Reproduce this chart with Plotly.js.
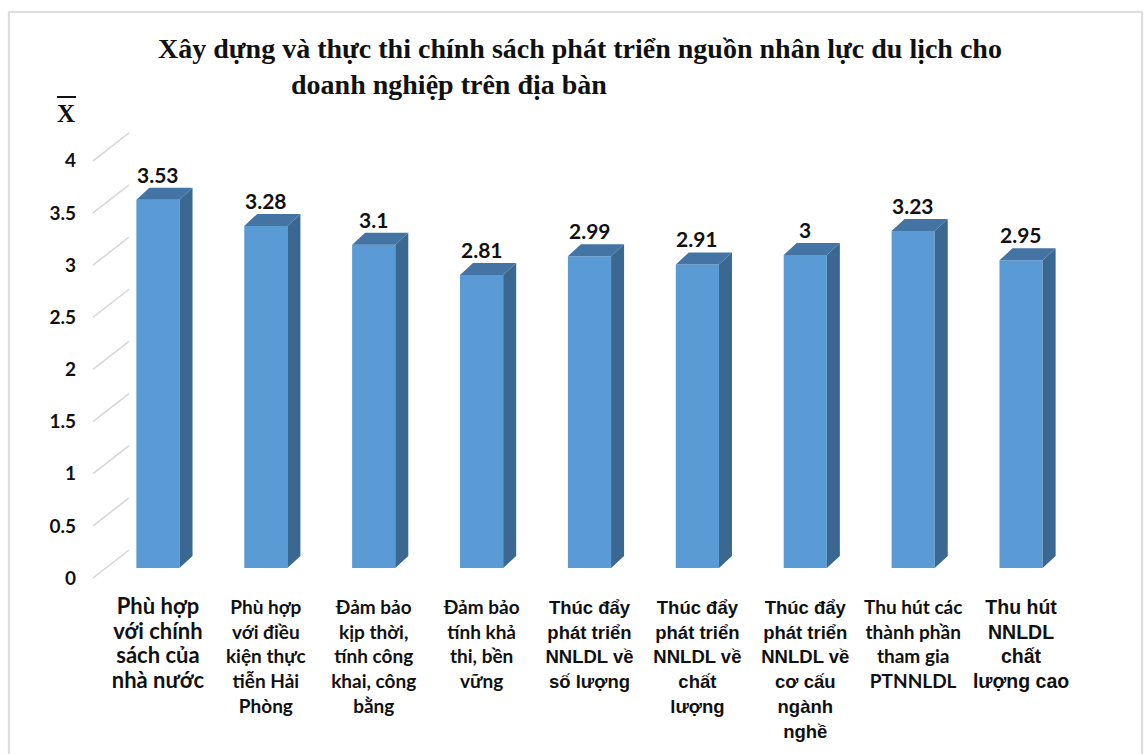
<!DOCTYPE html>
<html>
<head>
<meta charset="utf-8">
<script src="https://cdn.plot.ly/plotly-3.0.1.min.js"></script>
<style>
  html, body { margin: 0; padding: 0; background: #ffffff; }
  #wrap { position: relative; width: 1146px; height: 754px; overflow: hidden; }
  #chart { position: absolute; left: 0; top: 0; width: 1146px; height: 754px; }
  #frame { position: absolute; left: 8px; top: 11px; right: 3px; bottom: -6px;
           border: 2px solid #dedede; box-shadow: 0 0 2px #eeeeee; pointer-events: none; }
</style>
</head>
<body>
<div id="wrap">
  <div id="chart"></div>
  <div id="frame"></div>
</div>
<script>
// Mean scores for each policy criterion
const categories = [
  "Phù hợp<br>với chính<br>sách của<br>nhà nước",
  "Phù hợp<br>với điều<br>kiện thực<br>tiễn Hải<br>Phòng",
  "Đảm bảo<br>kịp thời,<br>tính công<br>khai, công<br>bằng",
  "Đảm bảo<br>tính khả<br>thi, bền<br>vững",
  "Thúc đẩy<br>phát triển<br>NNLDL về<br>số lượng",
  "Thúc đẩy<br>phát triển<br>NNLDL về<br>chất<br>lượng",
  "Thúc đẩy<br>phát triển<br>NNLDL về<br>cơ cấu<br>ngành<br>nghề",
  "Thu hút các<br>thành phần<br>tham gia<br>PTNNLDL",
  "Thu hút<br>NNLDL<br>chất<br>lượng cao"
];
const values = [3.53, 3.28, 3.1, 2.81, 2.99, 2.91, 3, 3.23, 2.95];
const valueLabels = ["3.53", "3.28", "3.1", "2.81", "2.99", "2.91", "3", "3.23", "2.95"];
const yTicks = [0, 0.5, 1, 1.5, 2, 2.5, 3, 3.5, 4];
const yTickLabels = ["0", "0.5", "1", "1.5", "2", "2.5", "3", "3.5", "4"];
const titleLine1 = "Xây dựng và thực thi chính sách phát triển nguồn nhân lực du lịch cho";
const titleLine2 = "doanh nghiệp trên địa bàn";

// typeface and size of each category label
const LATO = 'Lato, "Noto Sans", sans-serif';
const ARIAL = '"Liberation Sans", Arial, sans-serif';
const labelFaces = [LATO, LATO, LATO, LATO, ARIAL, ARIAL, ARIAL, LATO, ARIAL];
const labelSizes = [22, 19, 19, 19, 18.5, 18.5, 18.5, 19, 19.5];
const tickText = categories.map((c, i) =>
  '<span style="font-family:' + labelFaces[i].replace(/"/g, "'") +
  ';font-size:' + labelSizes[i] + 'px"><b>' + c.split('<br>').join('</b><br><b>') + '</b></span>');

// ---- page geometry (pixels) ----
const W = 1146, H = 754;
const WALL_LEFT = 129;           // left edge of the back wall
const WALL_RIGHT = 1102;         // right edge of the back wall
const M = { l: WALL_LEFT, r: W - WALL_RIGHT, t: 130, b: 176 };
const PW = W - M.l - M.r;
const PH = H - M.t - M.b;
const px2x = p => (p - M.l) / PW;
const px2y = p => (H - M.b - p) / PH;
const K = 104.3;                 // pixels per unit of score
const FLOOR_FRONT = H - M.b;     // front edge of the floor (tick labels)
const BAR_BASE = 568;            // bottom of the bar front faces
const WALL_BASE = 550;           // bottom gridline on the back wall
const FRONT_LEFT = 104;          // left edge of the bar plane
const FRONT_RIGHT = 1075;        // right edge of the bar plane
const FLOOR_LEFT = 93;           // front-left corner of the floor

// bar plane: category range mapped onto the shared plot width
const N = categories.length;
const CAT_PX = (FRONT_RIGHT - FRONT_LEFT) / N;
const xRange2 = [-0.5 + (M.l - FRONT_LEFT) / CAT_PX, -0.5 + (WALL_RIGHT - FRONT_LEFT) / CAT_PX];

// ---- 3D bar depth, in axis units ----
const BAR_W = 0.4;
const DX = 13 / CAT_PX;
const DY = 12 / K;

const xs = categories.map((c, i) => i);

// side and top faces of every bar
const sideX = [], sideY = [], topX = [], topY = [];
values.forEach((v, i) => {
  const r = i + BAR_W / 2, l = i - BAR_W / 2;
  sideX.push(r, r + DX, r + DX, r, r, null);
  sideY.push(0, DY, v + DY, v, 0, null);
  topX.push(l, r, r + DX, l + DX, l, null);
  topY.push(v, v, v + DY, v + DY, v, null);
});

const traces = [
  {
    type: 'bar', x: xs, y: values, width: BAR_W,
    xaxis: 'x2', yaxis: 'y2',
    marker: { color: '#5b9bd5', line: { width: 0 } },
    hoverinfo: 'skip'
  },
  {
    type: 'scatter', mode: 'lines', x: sideX, y: sideY,
    xaxis: 'x2', yaxis: 'y2', fill: 'toself', fillcolor: '#3b6891',
    line: { width: 0, color: '#3b6891' }, hoverinfo: 'skip'
  },
  {
    type: 'scatter', mode: 'lines', x: topX, y: topY,
    xaxis: 'x2', yaxis: 'y2', fill: 'toself', fillcolor: '#4474a3',
    line: { width: 0, color: '#4474a3' }, hoverinfo: 'skip'
  }
];

const valueFont = { family: LATO, size: 21, color: '#111111' };

const annotations = values.map((v, i) => ({
  xref: 'x2', yref: 'y2', x: i, y: v, yanchor: 'bottom', yshift: 11,
  text: '<b>' + valueLabels[i] + '</b>', showarrow: false, font: valueFont
}));

const serif = '"Liberation Serif", "Times New Roman", serif';
annotations.push(
  { xref: 'paper', yref: 'paper', x: px2x(580), y: px2y(48), xanchor: 'center', yanchor: 'middle',
    text: '<b>' + titleLine1 + '</b>', showarrow: false,
    font: { family: serif, size: 28, color: '#111111' } },
  { xref: 'paper', yref: 'paper', x: px2x(289), y: px2y(85), xanchor: 'left', yanchor: 'middle',
    text: '<b>' + titleLine2 + '</b>', showarrow: false,
    font: { family: serif, size: 28, color: '#111111' } },
  { xref: 'paper', yref: 'paper', x: px2x(66), y: px2y(114), xanchor: 'center', yanchor: 'middle',
    text: '<b>X</b>', showarrow: false,
    font: { family: serif, size: 25, color: '#111111' } }
);

// perspective lines linking each front tick to its gridline on the back wall
const shapes = yTicks.map(v => ({
  type: 'line', xref: 'paper', yref: 'y3', layer: 'below',
  xsizemode: 'pixel', xanchor: 0, x0: FLOOR_LEFT - M.l, x1: 0,
  ysizemode: 'pixel', yanchor: v, y0: 0, y1: FLOOR_FRONT - WALL_BASE,
  line: { color: '#d6d6d6', width: 1.5 }
}));
// bar over the mean symbol
shapes.push({
  type: 'line', xref: 'paper', yref: 'paper',
  x0: px2x(57), x1: px2x(76), y0: px2y(97), y1: px2y(97),
  line: { color: '#111111', width: 2 }
});

const layout = {
  width: W, height: H,
  margin: M,
  paper_bgcolor: '#ffffff', plot_bgcolor: 'rgba(0,0,0,0)',
  showlegend: false,
  // back wall with its gridlines
  xaxis: { range: [0, 1], showgrid: false, zeroline: false, showticklabels: false, ticks: '', fixedrange: true },
  yaxis: { range: [-(FLOOR_FRONT - WALL_BASE) / K, (WALL_BASE - M.t) / K],
           tickvals: yTicks, showticklabels: false, ticks: '',
           showgrid: true, gridcolor: '#d6d6d6', gridwidth: 1.5, zeroline: false, fixedrange: true },
  // plane of the bar front faces
  xaxis2: { overlaying: 'x', anchor: 'y2', range: xRange2,
            tickvals: xs, ticktext: tickText, ticks: '', ticklabelstandoff: 16,
            tickfont: { family: LATO, size: 19, color: '#111111' },
            showgrid: false, zeroline: false, showline: false, fixedrange: true },
  yaxis2: { overlaying: 'y', anchor: 'x2', range: [-(FLOOR_FRONT - BAR_BASE) / K, (BAR_BASE - M.t) / K],
            showgrid: false, zeroline: false, showticklabels: false, ticks: '', fixedrange: true },
  // front edge of the floor carries the value scale
  yaxis3: { overlaying: 'y', anchor: 'free', position: 0, range: [0, PH / K],
            tickvals: yTicks, ticktext: yTickLabels, ticks: '', ticklabelstandoff: 53,
            tickfont: { family: LATO, size: 19, color: '#111111', weight: 'bold' },
            showgrid: false, zeroline: false, showline: false, fixedrange: true },
  annotations: annotations,
  shapes: shapes
};

Plotly.newPlot('chart', traces, layout, { displayModeBar: false, staticPlot: true });
</script>
</body>
</html>
